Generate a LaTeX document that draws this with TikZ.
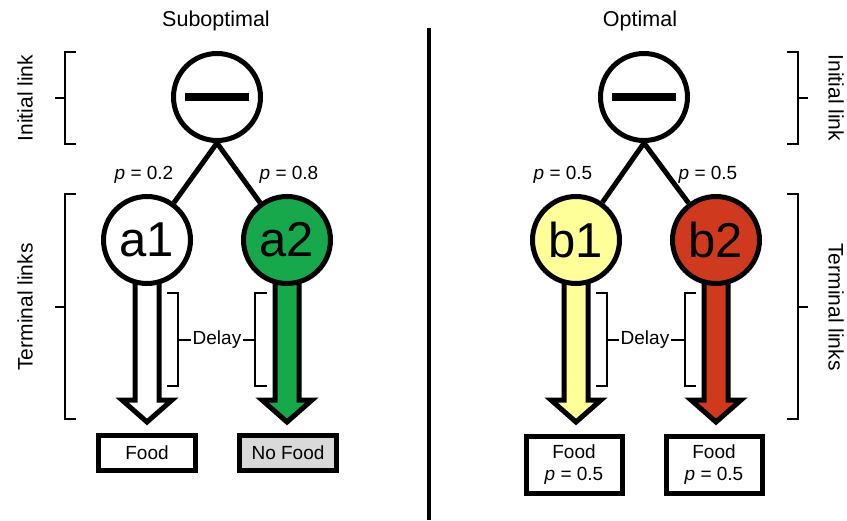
\documentclass[tikz,border=0pt]{standalone}
\usepackage{fontspec}
\setmainfont{Liberation Sans}
\definecolor{choicegreen}{HTML}{16A84B}
\definecolor{choiceyellow}{HTML}{FFFF99}
\definecolor{choicered}{HTML}{CF3A1E}
\definecolor{boxgray}{HTML}{D9D9D9}
\newcommand{\fs}[1]{\fontsize{#1}{#1}\selectfont}
% block arrow hanging below a link centre
\newcommand{\blockarrowpath}{(-12,40) -- (-12,160) -- (-25,160) -- (0,182) -- (25,160) -- (12,160) -- (12,40)}
\tikzset{
  link/.style={circle, draw, line width=5pt, minimum size=87pt, inner sep=0pt, fill=white, font=\fs{49}},
  branch/.style={line width=5pt},
  blockarrow/.style={draw, line width=5pt, miter limit=10, line join=miter},
  outcome/.style={draw, line width=5pt, minimum width=97pt, minimum height=35pt, inner sep=0pt, fill=white, font=\fs{19}, align=center},
  outcometall/.style={outcome, minimum width=96pt, minimum height=57pt},
  brace/.style={line width=2pt},
  delaylabel/.style={font=\fs{19}, inner sep=1.5pt},
  sidelabel/.style={font=\fs{21}},
  problabel/.style={font=\fs{19}},
  title/.style={font=\fs{21.5}},
}
\begin{document}
\begin{tikzpicture}[x=1pt, y=-1pt]
\useasboundingbox (0,0) rectangle (847,520);

% titles and divider
\node[title] (tsub) at (216,21) {Suboptimal};
\node[title] (topt) at (640,21) {Optimal};
\draw[line width=4pt] (429,28) -- (429,520);

% link centres
\coordinate (ca1) at (147,240);
\coordinate (ca2) at (287,240);
\coordinate (cb1) at (576,240);
\coordinate (cb2) at (716,240);

% ---------- suboptimal side ----------
\node[outcome] (fa1) at (147,453) {Food};
\node[outcome, fill=boxgray] (fa2) at (288,453) {No Food};
\draw[blockarrow, fill=white, shift={(ca1)}] \blockarrowpath;
\draw[blockarrow, fill=choicegreen, shift={(ca2)}] \blockarrowpath;

\node[link] (tl) at (217,97) {};
\draw[line width=8pt] ([xshift=-32pt]tl.center) -- ([xshift=32pt]tl.center);
\node[link] (a1) at (ca1) {a1};
\node[link, fill=choicegreen] (a2) at (ca2) {a2};
\draw[branch] (tl.south) -- (a1);
\draw[branch] (tl.south) -- (a2);
\node[problabel] (pa1) at (144,175) {\textit{p} = 0.2};
\node[problabel] (pa2) at (289,175) {\textit{p} = 0.8};

% delay braces
\node[delaylabel] (da) at (217,340) {Delay};
\draw[brace] (167,293) -- (178,293) -- (178,386) -- (167,386);
\draw[brace] (178,340) -- (da.west);
\draw[brace] (267,293) -- (255,293) -- (255,386) -- (267,386);
\draw[brace] (255,340) -- (da.east);

% stage braces, left
\node[sidelabel, rotate=90] (il) at (25,98) {Initial link};
\draw[brace] (76,52) -- (65,52) -- (65,144) -- (76,144);
\draw[brace] (65,98) -- (55,98);
\node[sidelabel, rotate=90] (tml) at (25,307) {Terminal links};
\draw[brace] (76,194) -- (65,194) -- (65,419) -- (76,419);
\draw[brace] (65,307) -- (55,307);

% ---------- optimal side ----------
\node[outcometall] (fb1) at (574,465) {Food\\[3pt]\textit{p} = 0.5};
\node[outcometall] (fb2) at (714,465) {Food\\[3pt]\textit{p} = 0.5};
\draw[blockarrow, fill=choiceyellow, shift={(cb1)}] \blockarrowpath;
\draw[blockarrow, fill=choicered, shift={(cb2)}] \blockarrowpath;

\node[link] (tr) at (644,97) {};
\draw[line width=8pt] ([xshift=-32pt]tr.center) -- ([xshift=32pt]tr.center);
\node[link, fill=choiceyellow] (b1) at (cb1) {b1};
\node[link, fill=choicered] (b2) at (cb2) {b2};
\draw[branch] (tr.south) -- (b1);
\draw[branch] (tr.south) -- (b2);
\node[problabel] (pb1) at (563,175) {\textit{p} = 0.5};
\node[problabel] (pb2) at (708,175) {\textit{p} = 0.5};

\node[delaylabel] (db) at (645,340) {Delay};
\draw[brace] (596,293) -- (607,293) -- (607,386) -- (596,386);
\draw[brace] (607,340) -- (db.west);
\draw[brace] (696,293) -- (685,293) -- (685,386) -- (696,386);
\draw[brace] (685,340) -- (db.east);

% stage braces, right
\node[sidelabel, rotate=-90] (ir) at (836,98) {Initial link};
\draw[brace] (787,52) -- (798,52) -- (798,144) -- (787,144);
\draw[brace] (798,98) -- (808,98);
\node[sidelabel, rotate=-90] (tmr) at (836,307) {Terminal links};
\draw[brace] (787,194) -- (798,194) -- (798,419) -- (787,419);
\draw[brace] (798,307) -- (808,307);
\end{tikzpicture}
\end{document}
